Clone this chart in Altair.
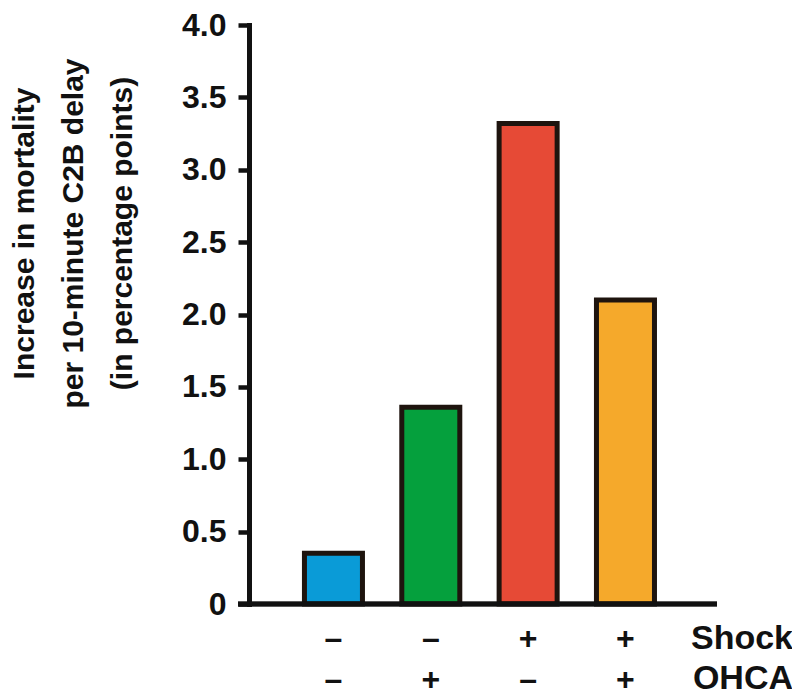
import altair as alt
import pandas as pd

# ---- data ----
groups = ["No shock, no OHCA", "OHCA only", "Shock only", "Shock and OHCA"]
increase = [0.35, 1.36, 3.32, 2.10]
shock_signs = ["–", "–", "+", "+"]
ohca_signs = ["–", "+", "–", "+"]
bar_colors = ["#0a9bd7", "#05a03d", "#e64a36", "#f5a92b"]
y_ticks = [0, 0.5, 1.0, 1.5, 2.0, 2.5, 3.0, 3.5, 4.0]
y_title = ["Increase in mortality", "per 10-minute C2B delay", "(in percentage points)"]
row_names = ["Shock", "OHCA"]

df = pd.DataFrame({"group": groups, "value": increase,
                   "shock": shock_signs, "ohca": ohca_signs})

W, H = 468, 579
FONT = "Liberation Sans"

x_enc = alt.X("group:N", sort=groups, axis=None,
              scale=alt.Scale(paddingInner=0.404, paddingOuter=0.606, align=0.47))

bars = alt.Chart(df).mark_bar(stroke="#1e140e", strokeWidth=5).encode(
    x=x_enc,
    y=alt.Y("value:Q",
            scale=alt.Scale(domain=[0, 4], nice=False),
            axis=alt.Axis(values=y_ticks, grid=False, title=y_title,
                          labelExpr="datum.value == 0 ? '0' : format(datum.value, '.1f')",
                          labelFont=FONT, labelFontSize=32, labelFontWeight="bold",
                          labelColor="#111", labelPadding=12,
                          tickSize=11, tickWidth=4.5, tickColor="#111",
                          domainColor="#111", domainWidth=5, domainCap="square",
                          titleFont=FONT, titleFontSize=30, titleFontWeight="bold",
                          titleColor="#111", titleAngle=270, titleAlign="center",
                          titleBaseline="alphabetic", titleLineHeight=49,
                          titleX=-216, titleY=208)),
    color=alt.Color("group:N", scale=alt.Scale(domain=groups, range=bar_colors), legend=None),
)

baseline = alt.Chart(df).mark_rule(color="#111", strokeWidth=4.5).encode(
    x=alt.value(-11), x2=alt.value(W), y=alt.datum(0)
)

shock_row = alt.Chart(df).mark_text(font=FONT, fontSize=32, fontWeight="bold",
                                     color="#111", baseline="middle").encode(
    x=x_enc, y=alt.value(H + 35), text="shock:N"
)
ohca_row = alt.Chart(df).mark_text(font=FONT, fontSize=32, fontWeight="bold",
                                    color="#111", baseline="middle").encode(
    x=x_enc, y=alt.value(H + 76), text="ohca:N"
)

names = pd.DataFrame({"name": row_names})
shock_name = alt.Chart(names).transform_filter(alt.datum.name == row_names[0]).mark_text(
    font=FONT, fontSize=34, fontWeight="bold", color="#111",
    align="right", baseline="middle").encode(
    x=alt.value(544), y=alt.value(H + 35), text="name:N")
ohca_name = alt.Chart(names).transform_filter(alt.datum.name == row_names[1]).mark_text(
    font=FONT, fontSize=34, fontWeight="bold", color="#111",
    align="right", baseline="middle").encode(
    x=alt.value(544), y=alt.value(H + 75), text="name:N")

chart = alt.layer(bars, baseline, shock_row, ohca_row, shock_name, ohca_name).properties(
    width=W, height=H,
    autosize=alt.AutoSizeParams(type="none"),
    padding={"left": 241, "top": 17, "right": 75, "bottom": 94},
    background="white",
).configure_view(stroke=None)

chart.save("out.html", embed_options={"renderer": "svg", "actions": False})
